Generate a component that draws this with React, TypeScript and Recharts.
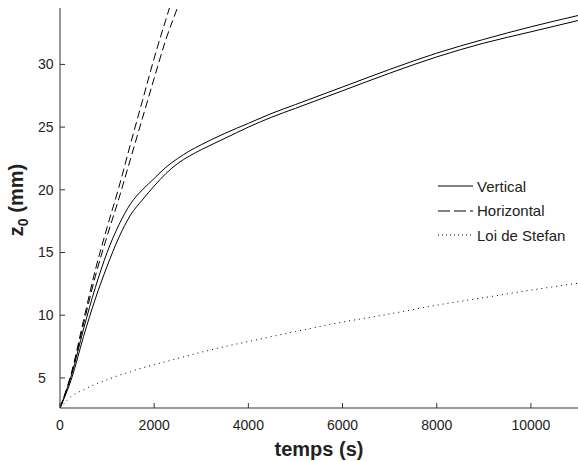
import { LineChart, Line, XAxis, YAxis, Legend } from "recharts"

// time (s)
const times = [0, 250, 500, 750, 1000, 1250, 1500, 1750, 2000, 2250, 2500, 2750, 3000, 3500, 4000, 4500, 5000, 6000, 7000, 8000, 9000, 10000, 11000]

// z0 (mm) — two "Vertical" runs
const vertical1 = [2.6, 5.3, 8.9, 12.2, 15.0, 17.2, 18.9, 20.0, 20.9, 21.8, 22.5, 23.1, 23.6, 24.5, 25.3, 26.1, 26.8, 28.2, 29.6, 30.9, 32.0, 33.0, 33.9]
const vertical2 = [2.6, 5.0, 8.3, 11.3, 13.9, 16.2, 18.0, 19.2, 20.3, 21.3, 22.1, 22.7, 23.2, 24.1, 25.0, 25.8, 26.5, 27.9, 29.3, 30.6, 31.7, 32.6, 33.5]

// two "Horizontal" runs (leave the plot at the top)
const horizontal1 = [2.6, 5.5, 9.6, 13.6, 17.0, 20.2, 23.7, 27.1, 30.5, 33.6, 36.6, null, null, null, null, null, null, null, null, null, null, null, null]
const horizontal2 = [2.6, 5.4, 9.3, 13.1, 16.3, 19.3, 22.5, 25.7, 28.9, 32.0, 34.6, 37.5, null, null, null, null, null, null, null, null, null, null, null]

// Loi de Stefan
const stefan = [2.6, 3.55, 4.05, 4.5, 4.85, 5.2, 5.5, 5.8, 6.05, 6.3, 6.55, 6.8, 7.05, 7.5, 7.9, 8.3, 8.7, 9.45, 10.1, 10.8, 11.4, 12.0, 12.55]

const xTicks = [0, 2000, 4000, 6000, 8000, 10000]
const yTicks = [5, 10, 15, 20, 25, 30]

const legendItems = [
  { name: "Vertical", dash: undefined },
  { name: "Horizontal", dash: "12 4" },
  { name: "Loi de Stefan", dash: "1 3" },
]

const data = times.map((t, i) => ({
  t,
  v1: vertical1[i],
  v2: vertical2[i],
  h1: horizontal1[i],
  h2: horizontal2[i],
  s: stefan[i],
}))

const FONT = "'Liberation Sans', Arial, Helvetica, sans-serif"
const AXIS = "#333"
const TEXT = "#222"

const XTitle = () => (
  <text x={319} y={456} textAnchor="middle" fontFamily={FONT} fontWeight="bold" fontSize={20} fill={TEXT}>
    temps (s)
  </text>
)

const YTitle = () => (
  <text
    x={23}
    y={200}
    transform="rotate(-90, 23, 200)"
    textAnchor="middle"
    fontFamily={FONT}
    fontWeight="bold"
    fontSize={20}
    fill={TEXT}
  >
    <tspan>z</tspan>
    <tspan dy={5} fontSize={14}>0</tspan>
    <tspan dy={-5}> (mm)</tspan>
  </text>
)

const LegendBox = () => (
  <div style={{ fontFamily: FONT, fontSize: 15, color: TEXT }}>
    {legendItems.map((item) => (
      <div key={item.name} style={{ display: "flex", alignItems: "center", height: 24.5 }}>
        <svg width={40} height={10} style={{ display: "block" }}>
          <line x1={1} x2={36} y1={5} y2={5} stroke="#000" strokeWidth={1} strokeDasharray={item.dash} />
        </svg>
        <span style={{ lineHeight: "15px" }}>{item.name}</span>
      </div>
    ))}
  </div>
)

export default function App() {
  const tickStyle = { fill: TEXT, fontSize: 14, fontFamily: FONT }
  return (
    <div style={{ position: "absolute", left: 0, top: 0 }}>
      <LineChart width={578} height={461} data={data} margin={{ top: 8, right: 0, bottom: 0, left: 0 }}>
        <XAxis
          dataKey="t"
          type="number"
          domain={[0, 11000]}
          ticks={xTicks}
          interval={0}
          allowDataOverflow
          height={53}
          tickSize={-5}
          tickMargin={17}
          tick={tickStyle}
          stroke={AXIS}
          label={<XTitle />}
        />
        <XAxis
          xAxisId="top"
          orientation="top"
          dataKey="t"
          type="number"
          domain={[0, 11000]}
          ticks={xTicks}
          interval={0}
          height={0}
          tickSize={-5}
          tickFormatter={() => ""}
          stroke={AXIS}
        />
        <YAxis
          type="number"
          domain={[2.6, 34.5]}
          ticks={yTicks}
          interval={0}
          allowDataOverflow
          width={60}
          tickSize={-5}
          tickMargin={27}
          tick={{ ...tickStyle, textAnchor: "start" }}
          stroke={AXIS}
          label={<YTitle />}
        />
        <YAxis
          yAxisId="right"
          orientation="right"
          type="number"
          domain={[2.6, 34.5]}
          ticks={yTicks}
          interval={0}
          width={0}
          tickSize={-5}
          tickFormatter={() => ""}
          stroke={AXIS}
        />
        <Line dataKey="v1" type="monotone" stroke="#000" strokeWidth={1} dot={false} isAnimationActive={false} />
        <Line dataKey="v2" type="monotone" stroke="#000" strokeWidth={1} dot={false} isAnimationActive={false} />
        <Line dataKey="h1" type="monotone" stroke="#000" strokeWidth={1} strokeDasharray="8 4" dot={false} isAnimationActive={false} />
        <Line dataKey="h2" type="monotone" stroke="#000" strokeWidth={1} strokeDasharray="8 4" dot={false} isAnimationActive={false} />
        <Line dataKey="s" type="monotone" stroke="#000" strokeWidth={1} strokeDasharray="1 4" dot={false} isAnimationActive={false} />
        <Legend
          layout="vertical"
          align="center"
          verticalAlign="middle"
          content={<LegendBox />}
          wrapperStyle={{ left: 437, top: 174, width: "auto" }}
        />
      </LineChart>
    </div>
  )
}
